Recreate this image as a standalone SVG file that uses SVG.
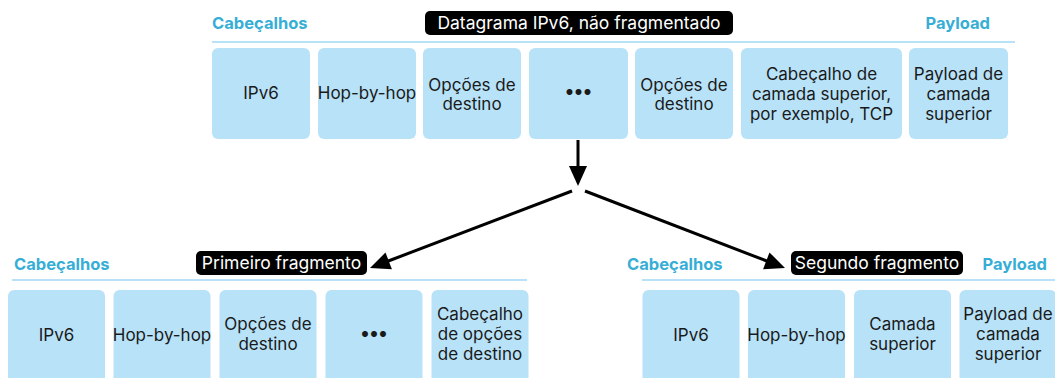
<svg xmlns="http://www.w3.org/2000/svg" width="1055" height="378" viewBox="0 0 1055 378">
<style>
.box{fill:#b8e2f8}
.t{font-family:Inter,"Open Sans","DejaVu Sans",sans-serif;font-size:17px;fill:#1a1a1a;text-anchor:middle}
.d{font-family:Inter,"Open Sans","DejaVu Sans",sans-serif;font-size:19px;font-weight:bold;fill:#1a1a1a;text-anchor:middle}
.h{font-family:Inter,"Open Sans","DejaVu Sans",sans-serif;font-size:16.5px;font-weight:bold;fill:#36aed6}
.lbl{fill:#000}
.lt{font-family:Inter,"Open Sans","DejaVu Sans",sans-serif;font-size:17.5px;fill:#fff;text-anchor:middle}
.rule{stroke:#b8e2f8;stroke-width:2}
.arr{stroke:#000;stroke-width:3;fill:none}
</style>
<rect width="1055" height="378" fill="#fff"/>

<g id="top-header">
<text class="h" x="212" y="29">Cabeçalhos</text>
<text class="h" x="990" y="29" text-anchor="end">Payload</text>
<line class="rule" x1="212" y1="42" x2="1015" y2="42"/>
<rect class="lbl" x="425" y="11" width="308" height="24" rx="5"/>
<text class="lt" x="579" y="29">Datagrama IPv6, não fragmentado</text>
</g>
<g id="t1"><rect class="box" x="212" y="48" width="98" height="91" rx="6"/><text class="t" x="261" y="99">IPv6</text></g>
<g id="t2"><rect class="box" x="318" y="48" width="98" height="91" rx="6"/><text class="t" x="367" y="99">Hop-by-hop</text></g>
<g id="t3"><rect class="box" x="423" y="48" width="98" height="91" rx="6"/><text class="t" x="472" y="90.5">Opções de</text><text class="t" x="472" y="110">destino</text></g>
<g id="t4"><rect class="box" x="529" y="48" width="99" height="91" rx="6"/><text class="d" x="578.5" y="98">•••</text></g>
<g id="t5"><rect class="box" x="635" y="48" width="98" height="91" rx="6"/><text class="t" x="684" y="90.5">Opções de</text><text class="t" x="684" y="110">destino</text></g>
<g id="t6"><rect class="box" x="741" y="48" width="161" height="91" rx="6"/><text class="t" x="821.5" y="80">Cabeçalho de</text><text class="t" x="821.5" y="100">camada superior,</text><text class="t" x="821.5" y="120">por exemplo, TCP</text></g>
<g id="t7"><rect class="box" x="909" y="48" width="99" height="91" rx="6"/><text class="t" x="958.5" y="80">Payload de</text><text class="t" x="958.5" y="100">camada</text><text class="t" x="958.5" y="120">superior</text></g>

<g id="connectors">
<line class="arr" x1="578" y1="140" x2="578" y2="168"/>
<polygon points="569,166 587,166 578,186" fill="#000"/>
<line class="arr" x1="572" y1="191" x2="387" y2="261.5"/>
<polygon points="370,268 391.9,269.3 385.5,252.5" fill="#000"/>
<line class="arr" x1="585" y1="191" x2="768" y2="261.5"/>
<polygon points="785,268 763.1,269.2 769.5,252.4" fill="#000"/>
</g>

<g id="left-header">
<text class="h" x="14" y="270">Cabeçalhos</text>
<line class="rule" x1="12" y1="280" x2="527" y2="280"/>
<rect class="lbl" x="196" y="251" width="171" height="24" rx="5"/>
<text class="lt" x="281.5" y="269">Primeiro fragmento</text>
</g>
<g id="l1"><rect class="box" x="8" y="290" width="97" height="95" rx="6"/><text class="t" x="56.5" y="341">IPv6</text></g>
<g id="l2"><rect class="box" x="113.5" y="290" width="97" height="95" rx="6"/><text class="t" x="162" y="341">Hop-by-hop</text></g>
<g id="l3"><rect class="box" x="219.5" y="290" width="97" height="95" rx="6"/><text class="t" x="268" y="330">Opções de</text><text class="t" x="268" y="350">destino</text></g>
<g id="l4"><rect class="box" x="325.5" y="290" width="97" height="95" rx="6"/><text class="d" x="374" y="340">•••</text></g>
<g id="l5"><rect class="box" x="431.5" y="290" width="97" height="95" rx="6"/><text class="t" x="480" y="320">Cabeçalho</text><text class="t" x="480" y="340">de opções</text><text class="t" x="480" y="360">de destino</text></g>

<g id="right-header">
<text class="h" x="627" y="270">Cabeçalhos</text>
<text class="h" x="1047" y="270" text-anchor="end">Payload</text>
<line class="rule" x1="642" y1="280" x2="1055" y2="280"/>
<rect class="lbl" x="791" y="251" width="172" height="24" rx="5"/>
<text class="lt" x="877" y="269">Segundo fragmento</text>
</g>
<g id="r1"><rect class="box" x="642.5" y="290" width="97" height="95" rx="6"/><text class="t" x="691" y="341">IPv6</text></g>
<g id="r2"><rect class="box" x="748" y="290" width="97" height="95" rx="6"/><text class="t" x="796.5" y="341">Hop-by-hop</text></g>
<g id="r3"><rect class="box" x="854" y="290" width="97" height="95" rx="6"/><text class="t" x="902.5" y="330">Camada</text><text class="t" x="902.5" y="350">superior</text></g>
<g id="r4"><rect class="box" x="959.5" y="290" width="97" height="95" rx="6"/><text class="t" x="1008" y="320">Payload de</text><text class="t" x="1008" y="340">camada</text><text class="t" x="1008" y="360">superior</text></g>
</svg>
